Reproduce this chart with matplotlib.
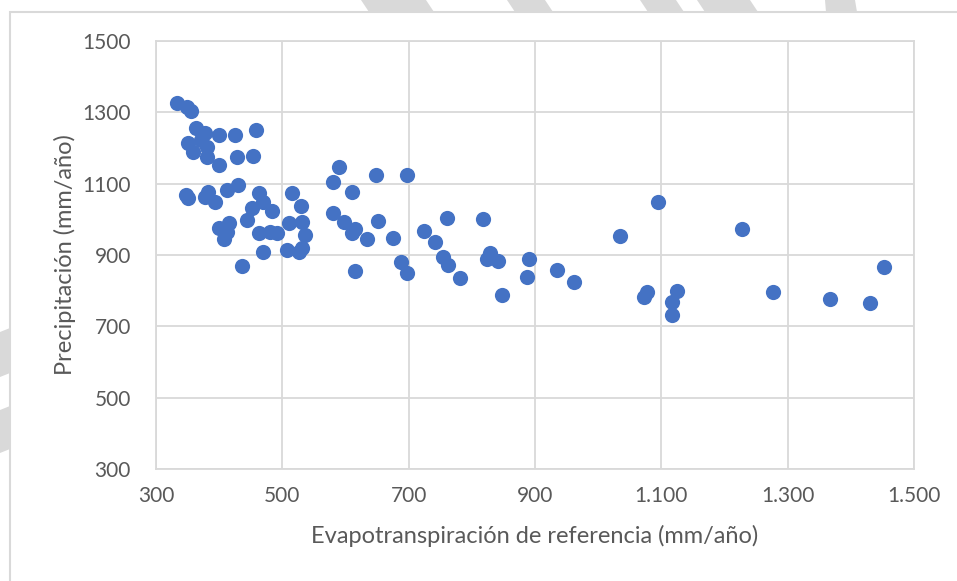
# Scatter: precipitación vs evapotranspiración de referencia
import matplotlib.pyplot as plt
from matplotlib.patches import Polygon, Rectangle

# data (mm/año)
eto = [334, 349, 355, 363, 377, 351, 359, 381, 380, 372, 400, 425, 458, 400, 429, 453,
       347, 351, 383, 378, 393, 412, 430, 463, 470, 452, 483, 444, 515, 530, 531, 510,
       536, 399, 416, 412, 407, 463, 481, 491, 470, 507, 526, 531, 436,
       589, 581, 649, 698, 610, 581, 597, 615, 610, 651, 634, 675, 761, 818, 724, 742,
       755, 762, 829, 824, 842, 890, 887, 782, 688, 698, 615, 848,
       1094, 1035, 1228, 935, 961, 1078, 1072, 1125, 1117, 1117, 1276,
       1453, 1367, 1431]
precip = [1327, 1316, 1305, 1257, 1241, 1215, 1190, 1204, 1176, 1222, 1236, 1236, 1250, 1152, 1176, 1178,
          1068, 1059, 1078, 1064, 1050, 1082, 1096, 1073, 1050, 1031, 1022, 998, 1075, 1037, 993, 989,
          956, 975, 989, 965, 944, 961, 965, 961, 909, 914, 909, 919, 869,
          1148, 1106, 1124, 1124, 1076, 1019, 993, 972, 963, 996, 945, 947, 1003, 1002, 968, 937,
          894, 872, 905, 888, 884, 888, 839, 835, 879, 850, 856, 788,
          1049, 954, 974, 858, 825, 797, 781, 800, 769, 732, 797,
          867, 776, 765]

x_ticks = [300, 500, 700, 900, 1100, 1300, 1500]
x_labels = ['300', '500', '700', '900', '1.100', '1.300', '1.500']
y_ticks = [300, 500, 700, 900, 1100, 1300, 1500]

plt.rcParams['font.family'] = ['Lato', 'DejaVu Sans']
W, H = 957, 581
fig = plt.figure(figsize=(W / 100, H / 100), dpi=100)
grey = '#d9d9d9'


def px(pts):
    # pixel coords (origin top-left) -> display coords
    return [(x, H - y) for x, y in pts]


# faint watermark stripes outside the chart frame
top_bands = [(361, 390), (385, 426), (507, 545), (640, 676), (697, 750)]
for a, b in top_bands:
    fig.add_artist(Polygon(px([(a, 0), (b, 0), (b + 8, 12), (a + 8, 12)]),
                           transform=None, color=grey, lw=0, zorder=-3))
fig.add_artist(Polygon(px([(825, 0), (855, 0), (857, 12), (826, 12)]),
                       transform=None, color=grey, lw=0, zorder=-3))
for a, b in [(332, 377), (410, 453)]:
    fig.add_artist(Polygon(px([(0, a), (10, a - 4), (10, b - 4), (0, b)]),
                           transform=None, color=grey, lw=0, zorder=-3))
# chart frame
fig.add_artist(Rectangle((10, -5), W, H - 12 + 5, transform=None,
                         facecolor='white', edgecolor=grey, lw=1.5, zorder=-2))

ax = fig.add_axes([156 / W, 1 - 469 / H, 758 / W, 428 / H])
ax.set_facecolor('none')
ax.scatter(eto, precip, s=120, color='#4472C4', zorder=3, linewidths=0)

ax.set_xlim(300, 1500)
ax.set_ylim(300, 1500)
ax.set_xticks(x_ticks)
ax.set_xticklabels(x_labels)
ax.set_yticks(y_ticks)
ax.grid(True, color=grey, lw=1.3)
ax.set_axisbelow(True)
for sp in ax.spines.values():
    sp.set_color(grey)
    sp.set_linewidth(1.3)
ax.tick_params(axis='x', length=0, labelsize=15, labelcolor='#595959', pad=12)
ax.tick_params(axis='y', length=0, labelsize=15, labelcolor='#595959', pad=18)

ax.set_xlabel('Evapotranspiración de referencia (mm/año)', fontsize=17, color='#595959', labelpad=14)
ax.set_ylabel('Precipitación (mm/año)', fontsize=17, color='#595959', labelpad=5)

plt.savefig('out.png', dpi=100)
